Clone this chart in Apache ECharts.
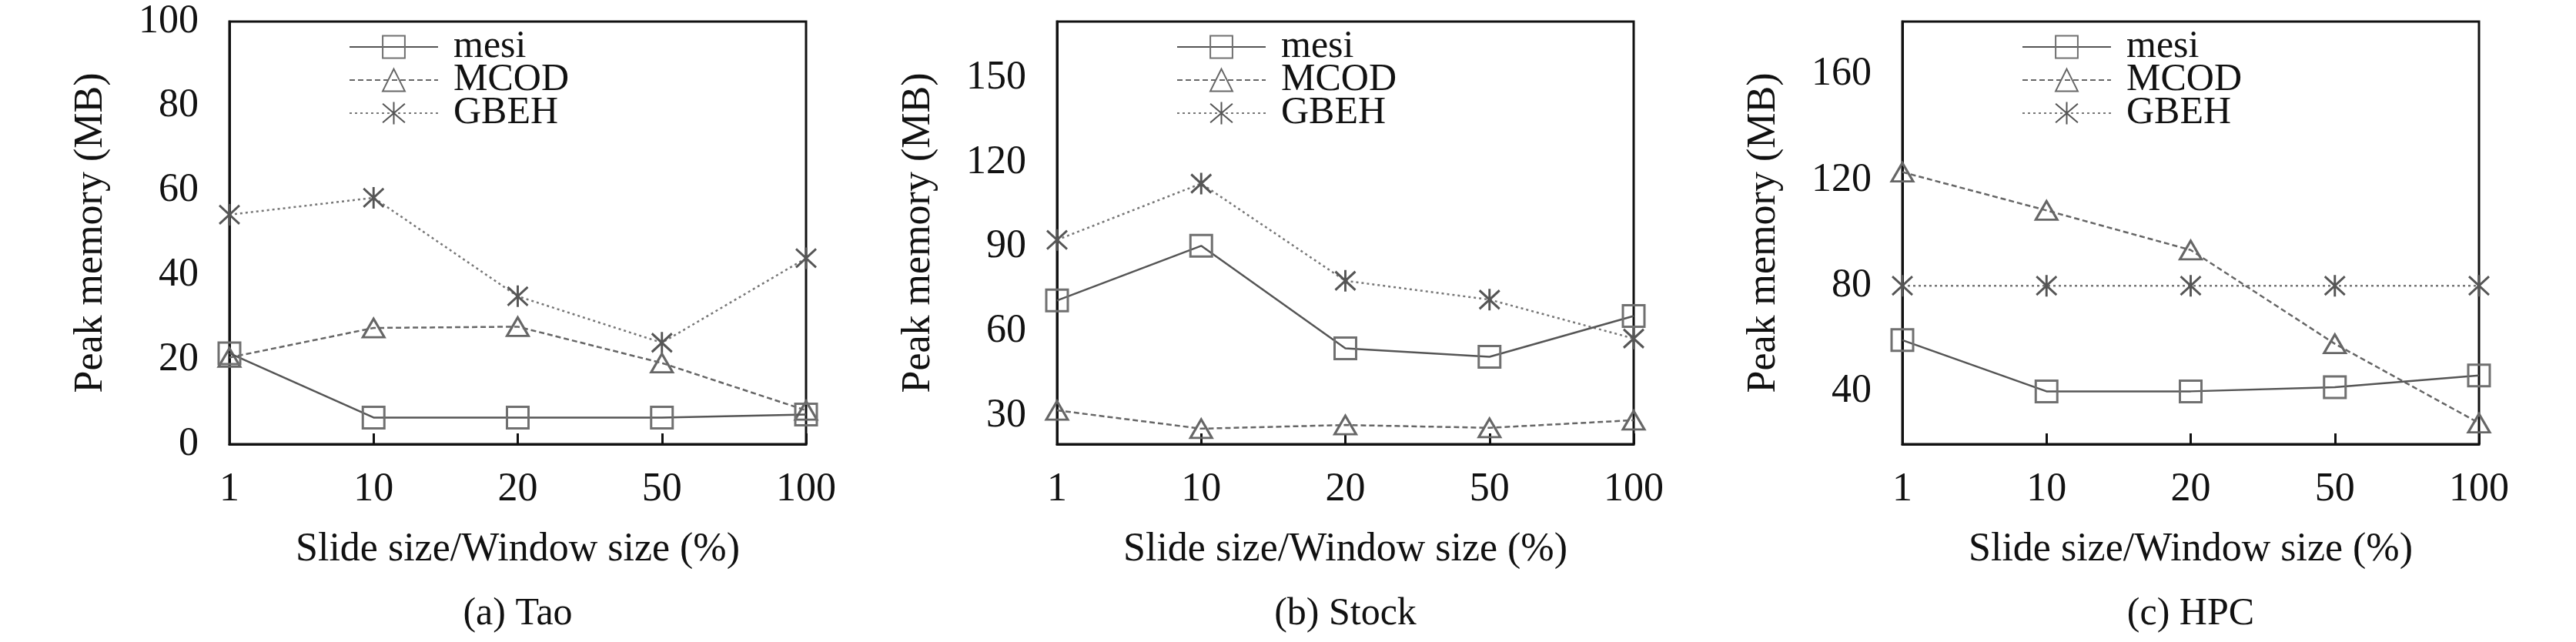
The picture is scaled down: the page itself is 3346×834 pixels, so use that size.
<!DOCTYPE html>
<html>
<head>
<meta charset="utf-8">
<title>Peak memory vs slide size</title>
<script src="https://cdn.jsdelivr.net/npm/echarts@6/dist/echarts.min.js"></script>
<style>
html,body{margin:0;padding:0;background:#fff;}
#main{width:3346px;height:834px;}
</style>
</head>
<body>
<div id="main"></div>
<script>
// x categories, shared by all three panels
var slideSizes=['1','10','20','50','100'];
var seriesNames=['mesi','MCOD','GBEH'];
var captions=['(a) Tao','(b) Stock','(c) HPC'];

// (a) Tao
var taoMesi=[21.5,6.3,6.3,6.3,7];
var taoMcod=[20.5,27.5,27.8,19.2,8];
var taoGbeh=[54.3,58.3,35,24,44];
var taoTicks=[0,20,40,60,80,100];

// (b) Stock
var stockMesi=[71,90.4,54,51,65.5];
var stockMcod=[32,25.5,26.8,25.8,28.5];
var stockGbeh=[92.5,112.5,78,71.3,57.5];
var stockTicks=[30,60,90,120,150];

// (c) HPC
var hpcMesi=[59.4,40,40,41.6,46];
var hpcMcod=[123,108.5,93.5,58,28];
var hpcGbeh=[80,80,80,80,80];
var hpcTicks=[40,80,120,160];

var yMins=[0,20,20];
var yMaxs=[100,170,180];

var panelData=[
	[taoMesi,taoMcod,taoGbeh],
	[stockMesi,stockMcod,stockGbeh],
	[hpcMesi,hpcMcod,hpcGbeh]
];
var panelTicks=[taoTicks,stockTicks,hpcTicks];

var font="'Liberation Serif','Times New Roman',serif";
var ink='#111';
var plotLefts=[298,1373,2471];
var plotTop=28,plotW=749,plotH=549;

// asterisk marker: X with a vertical stroke
var starPath='path://M0,0L24,24M24,0L0,24M12,-2L12,26';

function seriesStyle(k){
	if(k===0){
		return {
			symbol:'rect',symbolSize:28,
			lineStyle:{color:'#555',width:2.5,type:'solid'},
			itemStyle:{color:'transparent',borderColor:'#707070',borderWidth:3}
		};
	}
	if(k===1){
		return {
			symbol:'triangle',symbolSize:[28,24],
			lineStyle:{color:'#666',width:2.5,type:[7,4]},
			itemStyle:{color:'transparent',borderColor:'#666',borderWidth:3}
		};
	}
	return {
		symbol:starPath,symbolSize:[26,28],
		lineStyle:{color:'#777',width:2.5,type:[3,4]},
		itemStyle:{color:'#555',borderColor:'#555',borderWidth:3}
	};
}

var option={
	animation:false,
	backgroundColor:'#fff',
	grid:[],xAxis:[],yAxis:[],legend:[],title:[],series:[]
};

for(var i=0;i<3;i++){
	var left=plotLefts[i];
	option.grid.push({
		left:left,top:plotTop,width:plotW,height:plotH,
		show:true,borderColor:ink,borderWidth:3,backgroundColor:'transparent'
	});
	option.xAxis.push({
		gridIndex:i,type:'category',data:slideSizes,boundaryGap:false,
		name:'Slide size/Window size (%)',nameLocation:'middle',nameGap:111,
		nameTextStyle:{fontFamily:font,fontSize:52,color:ink},
		axisLine:{lineStyle:{color:ink,width:3}},
		axisTick:{inside:true,length:14,lineStyle:{color:ink,width:3}},
		axisLabel:{margin:33,fontFamily:font,fontSize:52,color:ink},
		splitLine:{show:false}
	});
	option.yAxis.push({
		gridIndex:i,type:'value',min:yMins[i],max:yMaxs[i],
		name:'Peak memory (MB)',nameLocation:'middle',nameGap:154,nameRotate:90,
		nameTextStyle:{fontFamily:font,fontSize:52,color:ink},
		axisLine:{show:true,lineStyle:{color:ink,width:3}},
		axisTick:{inside:true,length:14,lineStyle:{color:ink,width:3},customValues:panelTicks[i]},
		axisLabel:{margin:40,fontFamily:font,fontSize:52,color:ink,customValues:panelTicks[i]},
		splitLine:{show:false}
	});
	option.legend.push({
		orient:'vertical',left:left+155,top:36,padding:0,
		itemWidth:115,itemHeight:36,itemGap:-7,selectedMode:false,
		textStyle:{fontFamily:font,fontSize:50,color:ink,padding:[0,0,0,15]},
		data:seriesNames
	});
	option.title.push({
		text:captions[i],left:left+plotW/2,top:773,textAlign:'center',padding:0,
		textStyle:{fontFamily:font,fontSize:50,fontWeight:'normal',color:ink}
	});
	for(var k=0;k<3;k++){
		var st=seriesStyle(k);
		option.series.push({
			name:seriesNames[k],type:'line',
			xAxisIndex:i,yAxisIndex:i,
			data:panelData[i][k],
			symbol:st.symbol,symbolSize:st.symbolSize,
			lineStyle:st.lineStyle,itemStyle:st.itemStyle,
			emphasis:{disabled:true},
			z:3-k
		});
	}
}

var chart=echarts.init(document.getElementById('main'));
chart.setOption(option);
window.addEventListener('resize',function(){
	chart.resize();
});
</script>
</body>
</html>
